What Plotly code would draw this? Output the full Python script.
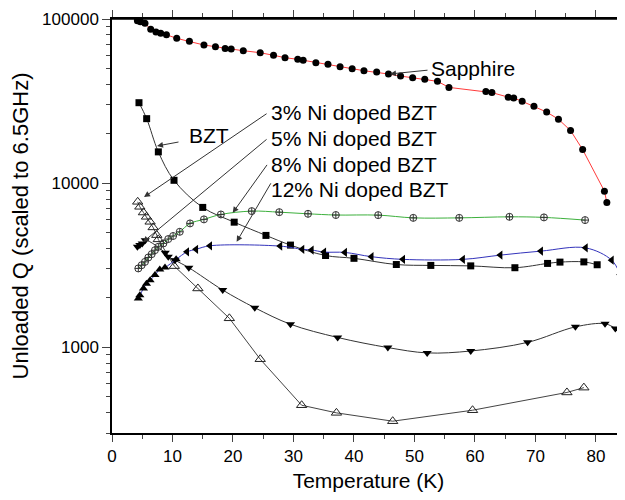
import plotly.graph_objects as go
import numpy as np

# Sapphire
sap_T = [4.2, 4.7, 5.45, 6.4, 7.27, 8.05, 9.0, 10.7, 12.8, 15.2, 17.1, 18.7, 19.7, 21.7, 24.5, 26.7,
         28.6, 30.7, 31.6, 33.7, 35.7, 37.7, 39.7, 41.65, 43.75, 45.7, 47.7, 49.7, 51.7, 53.8, 55.7,
         61.8, 62.8, 65.5, 66.4, 67.8, 69.75, 71.85, 73.8, 75.8, 77.8, 81.4, 81.8]
sap_Q = [97700, 96300, 94200, 86500, 83300, 81800, 80200, 76200, 73100, 69400, 67800, 66200, 65600,
         64100, 62300, 60100, 58100, 56800, 56000, 54200, 53000, 51200, 49800, 48400, 47500, 46200,
         44900, 43900, 42900, 41700, 38300, 36100, 35600, 33400, 33000, 31500, 29400, 27100, 24500,
         20900, 16000, 8930, 7620]

# BZT
bzt_T = [4.46, 5.73, 7.66, 10.25, 15.0, 20.2, 25.45, 29.5, 35.3, 40.0, 47.0, 52.7, 59.3, 66.6, 72.0, 74.05, 78.0, 80.2]
bzt_Q = [30900, 24700, 15500, 10400, 7110, 5780, 4800, 4190, 3620, 3480, 3190, 3150, 3130, 3050, 3240, 3300, 3310, 3180]

# 3% Ni doped BZT (open triangles)
n3_T = [4.25, 4.6, 5.2, 5.7, 6.3, 6.8, 7.4, 7.65, 10.3, 14.2, 19.4, 24.5, 31.35, 37.1, 46.4, 59.6, 75.2, 78.0]
n3_Q = [7690, 7170, 6620, 6230, 5810, 5370, 4820, 4540, 3120, 2280, 1500, 845, 443, 398, 354, 413, 530, 567]

# 5% Ni doped BZT (filled down triangles)
n5_T = [4.2, 4.6, 5.0, 5.5, 8.8, 9.3, 10.4, 12.7, 18.3, 23.6, 29.5, 37.3, 45.6, 52.1, 59.3, 68.7, 76.6, 81.5, 83.2, 84.2, 86.0]
n5_Q = [4090, 4200, 4290, 4490, 3760, 3560, 3390, 3050, 2230, 1740, 1380, 1146, 995, 923, 948, 1070, 1330, 1390, 1300, 1220, 850]

# 8% Ni doped BZT (crossed circles)
n8_T = [4.35, 4.9, 5.45, 6.0, 6.56, 7.1, 7.66, 8.5, 9.3, 10.1, 11.2, 12.9, 15.2, 18.0, 23.1, 27.65,
        32.4, 37.0, 44.0, 49.8, 57.4, 65.7, 71.4, 78.2]
n8_Q = [3020, 3160, 3310, 3520, 3690, 3900, 4090, 4290, 4560, 4760, 5050, 5680, 6010, 6440, 6750, 6650,
        6500, 6390, 6380, 6140, 6140, 6230, 6180, 5950]

# 12% Ni doped BZT (blue)
n12_T = [4.35, 4.6, 5.2, 5.7, 6.3, 7.1, 7.9, 8.76, 10.6, 12.4, 13.9, 16.2, 27.8, 31.45, 33.0, 35.05, 38.5,
         42.9, 48.1, 58.0, 64.2, 70.9, 78.3, 82.6, 84.0]
n12_Q = [1980, 2070, 2280, 2440, 2560, 2750, 2980, 3060, 3430, 3810, 3950, 4150, 4130, 3950, 3910, 3800, 3780,
         3560, 3430, 3430, 3640, 3850, 4030, 3390, 2770]

x_ticks = [0, 10, 20, 30, 40, 50, 60, 70, 80]
y_ticks = [1000, 10000, 100000]
y_ticktext = ["1000", "10000", "100000"]
y_minor = [m * 10 ** e for e in (2, 3, 4) for m in range(2, 10)]

FONT = "Liberation Sans, Arial, sans-serif"

fig = go.Figure()

fig.add_trace(go.Scatter(x=sap_T, y=sap_Q, mode="lines+markers",
                         line=dict(color="#ff3b3b", width=1),
                         marker=dict(symbol="circle", size=7, color="black")))
fig.add_trace(go.Scatter(x=bzt_T, y=bzt_Q, mode="lines+markers", line_shape="spline",
                         line=dict(color="#333333", width=1),
                         marker=dict(symbol="square", size=7, color="black")))
fig.add_trace(go.Scatter(x=n3_T, y=n3_Q, mode="lines+markers",
                         line=dict(color="#444444", width=1),
                         marker=dict(symbol="triangle-up-open", size=9, color="#222222",
                                     line=dict(width=1))))
fig.add_trace(go.Scatter(x=n5_T, y=n5_Q, mode="lines+markers", line_shape="spline",
                         line=dict(color="#333333", width=1),
                         marker=dict(symbol="triangle-down", size=8, color="black")))
fig.add_trace(go.Scatter(x=n8_T, y=n8_Q, mode="lines+markers", line_shape="spline",
                         line=dict(color="#3cb03c", width=1),
                         marker=dict(symbol="circle-cross-open", size=7, color="#333333",
                                     line=dict(width=1))))
sym12 = ["triangle-up" if t < 11 else "triangle-left" for t in n12_T]
fig.add_trace(go.Scatter(x=n12_T, y=n12_Q, mode="lines+markers", line_shape="spline",
                         line=dict(color="#3333bb", width=1),
                         marker=dict(symbol=sym12, size=8, color="black")))

xr = [0, 84.8]
yr = [np.log10(300), 5]

# page has an 8px body margin; compensate so the plot area lands where the reference has it
fig.update_layout(
    width=617, height=492,
    margin=dict(l=104, r=0, t=11, b=67),
    paper_bgcolor="white", plot_bgcolor="white",
    showlegend=False,
    font=dict(family=FONT, color="black"),
    xaxis=dict(range=xr, tickvals=x_ticks, ticks="outside", ticklen=7, tickwidth=1.2,
               showline=True, mirror="allticks", linecolor="black", linewidth=1.5,
               showgrid=False, zeroline=False,
               tickfont=dict(size=17), automargin=False,
               minor=dict(dtick=5, ticks="outside", ticklen=4, tickwidth=1.2, showgrid=False),
               title=dict(text="Temperature (K)", font=dict(size=21), standoff=8)),
    yaxis=dict(type="log", range=yr, tickvals=y_ticks, ticktext=y_ticktext,
               ticks="outside", ticklen=8, tickwidth=1.2, automargin=False,
               showline=True, linecolor="black", linewidth=1.5, showgrid=False, zeroline=False,
               tickfont=dict(size=17),
               minor=dict(tickvals=y_minor, ticks="outside", ticklen=4, tickwidth=1.2, showgrid=False),
               title=dict(text="Unloaded Q (scaled to 6.5GHz)", font=dict(size=22), standoff=8)),
)

# top frame line of the plot area
fig.add_shape(type="line", xref="paper", yref="paper", x0=0, x1=1, y0=1, y1=1,
              line=dict(color="black", width=1.5), layer="above")

def ann_text(text, T, lq):
    fig.add_annotation(x=T, y=lq, xref="x", yref="y", text=text, showarrow=False,
                       xanchor="left", yanchor="middle", font=dict(size=21, family=FONT, color="black"))

def ann_arrow(T0, lq0, T1, lq1):
    fig.add_annotation(x=T1, y=lq1, ax=T0, ay=lq0, xref="x", yref="y", axref="x", ayref="y",
                       text="", showarrow=True, arrowhead=2, arrowsize=1.2, arrowwidth=1,
                       arrowcolor="#333333")

ann_text("Sapphire", 52.4, 4.701)
ann_arrow(52.4, 4.689, 45.95, 4.665)
ann_text("BZT", 12.4, 4.29)
ann_arrow(11.24, 4.252, 7.44, 4.226)
ann_text("3% Ni doped BZT", 25.9, 4.43)
ann_arrow(25.8, 4.429, 5.29, 3.915)
ann_text("5% Ni doped BZT", 25.9, 4.27)
ann_arrow(25.8, 4.274, 5.1, 3.640)
ann_text("8% Ni doped BZT", 25.9, 4.115)
ann_arrow(25.8, 4.120, 19.95, 3.819)
ann_text("12% Ni doped BZT", 25.9, 3.96)
ann_arrow(26.4, 4.008, 20.6, 3.642)

fig.write_html("out.html")
